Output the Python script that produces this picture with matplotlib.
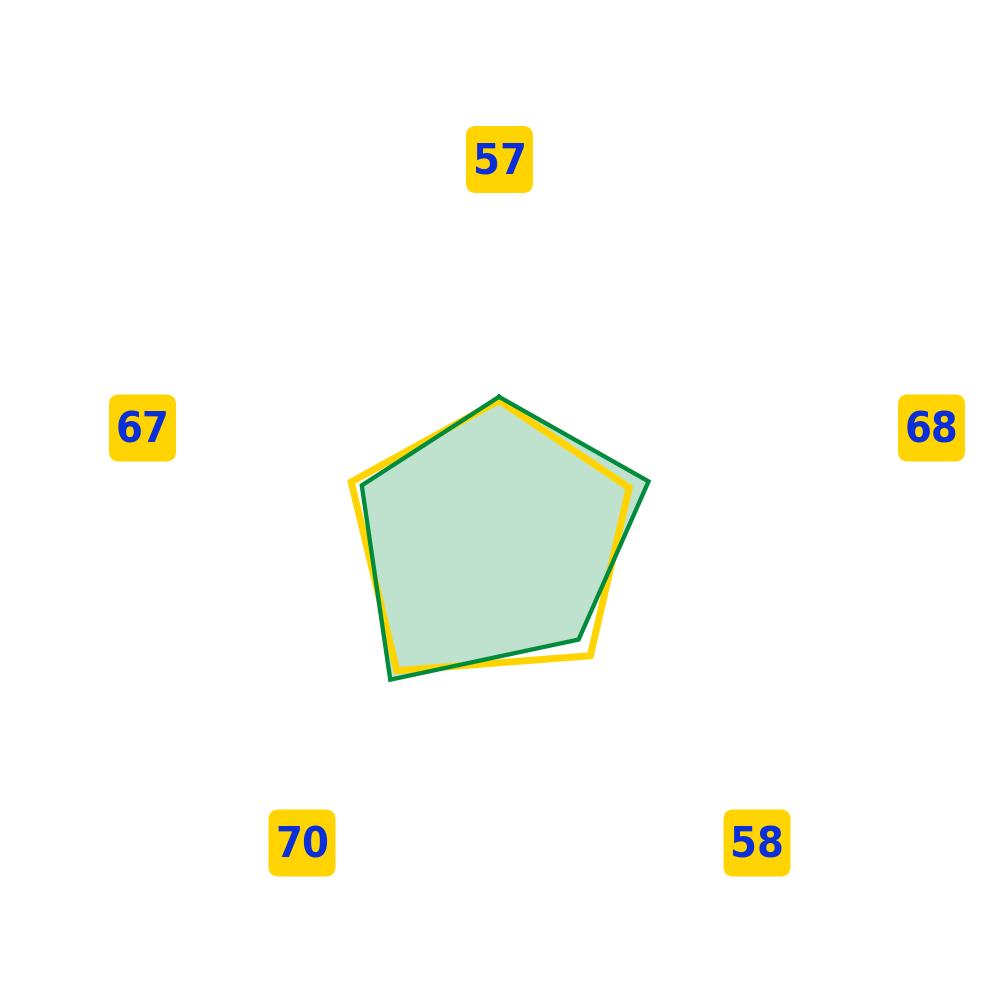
import numpy as np
import matplotlib.pyplot as plt
from matplotlib.patches import FancyBboxPatch
from matplotlib.transforms import IdentityTransform

# five axes, clockwise from the top
categories = ['57', '68', '58', '70', '67']
yellow_vals = [35, 37, 42, 47, 42]
green_vals = [36, 42.5, 36.6, 50, 39]

# label box centres in pixels (origin bottom-left)
label_pos = [(499.5, 840.5), (931.5, 572), (757, 157),
             (302, 157), (142.5, 572)]

yellow = '#FFD400'
green = '#008C3C'
blue = '#0A2ED8'

angles = np.linspace(0, 2 * np.pi, len(categories), endpoint=False)
ang_c = np.concatenate([angles, angles[:1]])
yel_c = yellow_vals + yellow_vals[:1]
grn_c = green_vals + green_vals[:1]

fig = plt.figure(figsize=(10, 10), dpi=100)
ax = fig.add_axes([0.129, 0.1, 0.74, 0.74], polar=True)
ax.set_theta_offset(np.pi / 2)
ax.set_theta_direction(-1)
ax.set_ylim(0, 100)

ax.fill(ang_c, grn_c, color=green, alpha=0.25, lw=0, zorder=1)
ax.plot(ang_c, yel_c, color=yellow, lw=5, solid_joinstyle='miter', zorder=2)
ax.plot(ang_c, grn_c, color=green, lw=3.1, solid_joinstyle='miter', zorder=3)

ax.set_xticks([])
ax.set_yticks([])
ax.grid(False)
ax.spines['polar'].set_visible(False)

for lab, (px, py) in zip(categories, label_pos):
    box = FancyBboxPatch((px - 33.5, py - 33.5), 67, 67,
                         boxstyle='round,pad=0,rounding_size=10',
                         fc=yellow, ec='none', transform=IdentityTransform())
    fig.add_artist(box)
    fig.text(px / 1000, py / 1000 + 0.002, lab, ha='center', va='center_baseline',
             color=blue, fontsize=31, fontweight='heavy',
             fontstretch='condensed', family=['DejaVu Sans'])

fig.savefig('out.png', dpi=100)
